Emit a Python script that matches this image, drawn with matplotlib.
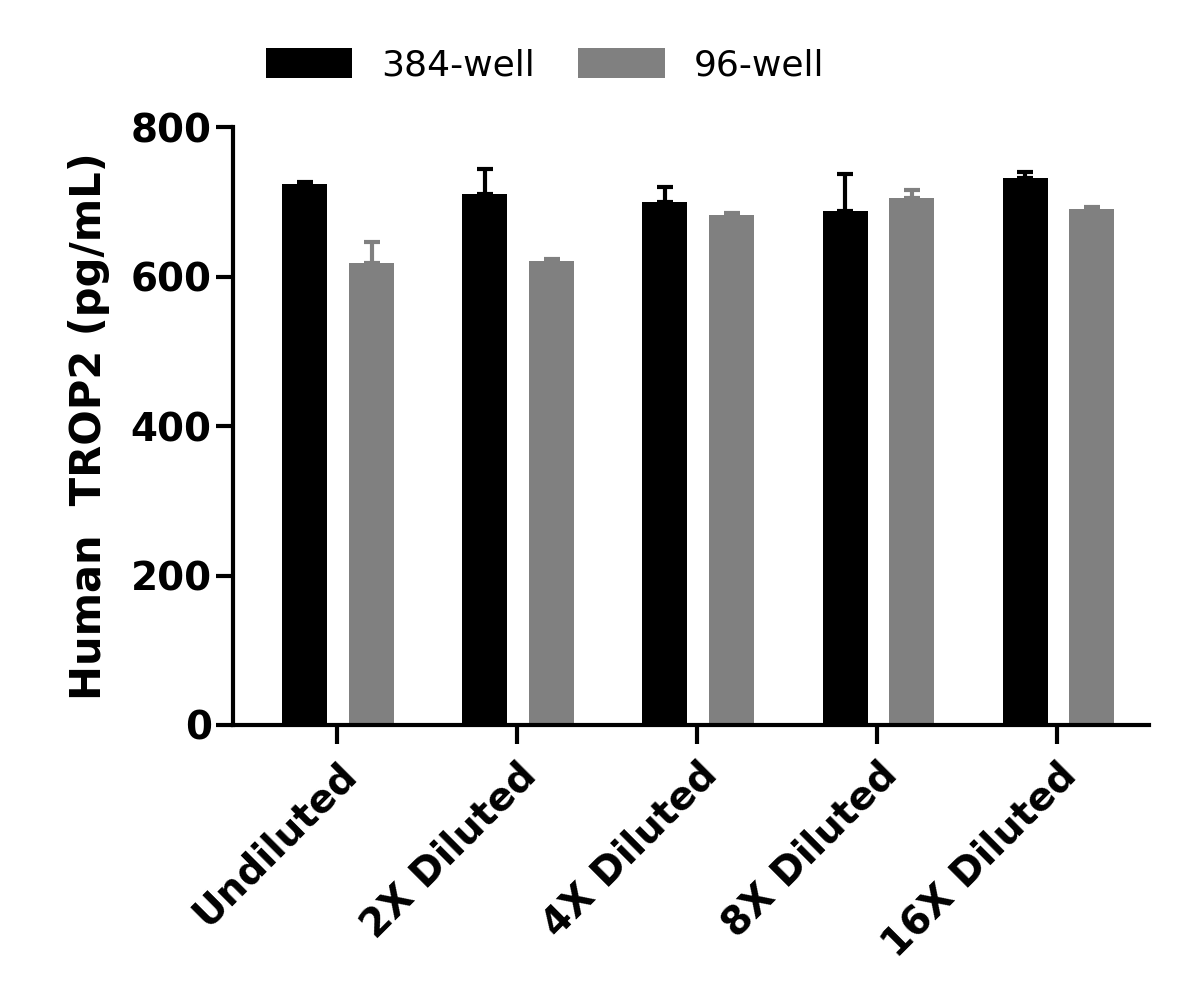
import matplotlib
matplotlib.use("Agg")
import matplotlib.pyplot as plt
import numpy as np

categories = ["Undiluted", "2X Diluted", "4X Diluted", "8X Diluted", "16X Diluted"]
well384 = [724, 710, 700, 688, 732]
well384_err = [3, 34, 20, 50, 8]
well96 = [618, 621, 682, 705, 690]
well96_err = [29, 2, 3, 11, 3]

plt.rcParams["font.family"] = "DejaVu Sans"
fig = plt.figure(figsize=(11.78, 10.02), dpi=100)
ax = fig.add_axes([0.198, 0.2765, 0.777, 0.5965])

x = np.arange(len(categories))
w = 0.25
ax.bar(x - 0.18, well384, w, color="black", label="384-well")
ax.errorbar(x - 0.18, well384, yerr=[np.zeros(5), well384_err], fmt="none",
            ecolor="black", elinewidth=3, capsize=6, capthick=3)
ax.bar(x + 0.19, well96, w, color="#808080", label="96-well")
ax.errorbar(x + 0.19, well96, yerr=[np.zeros(5), well96_err], fmt="none",
            ecolor="#808080", elinewidth=3, capsize=6, capthick=3)

ax.set_xlim(-0.578, 4.506)
ax.set_ylim(0, 800)
ax.set_yticks([0, 200, 400, 600, 800])
ax.set_xticks(x)
ax.set_xticklabels(categories, rotation=45, ha="right", rotation_mode="anchor",
                   fontsize=28, fontweight="bold")
ax.tick_params(axis="y", labelsize=28, width=3, length=12)
ax.tick_params(axis="x", width=3, length=14, pad=8)
for lab in ax.get_yticklabels():
    lab.set_fontweight("bold")
for s in ["top", "right"]:
    ax.spines[s].set_visible(False)
for s in ["left", "bottom"]:
    ax.spines[s].set_linewidth(3)
ax.set_ylabel("Human  TROP2 (pg/mL)", fontsize=30, fontweight="bold", labelpad=15)

ax.legend(loc="lower left", bbox_to_anchor=(0.0, 1.02), ncol=2, frameon=False,
          fontsize=26, handlelength=2.4, handleheight=0.9, columnspacing=1.2)

fig.savefig("out.png", dpi=100)
